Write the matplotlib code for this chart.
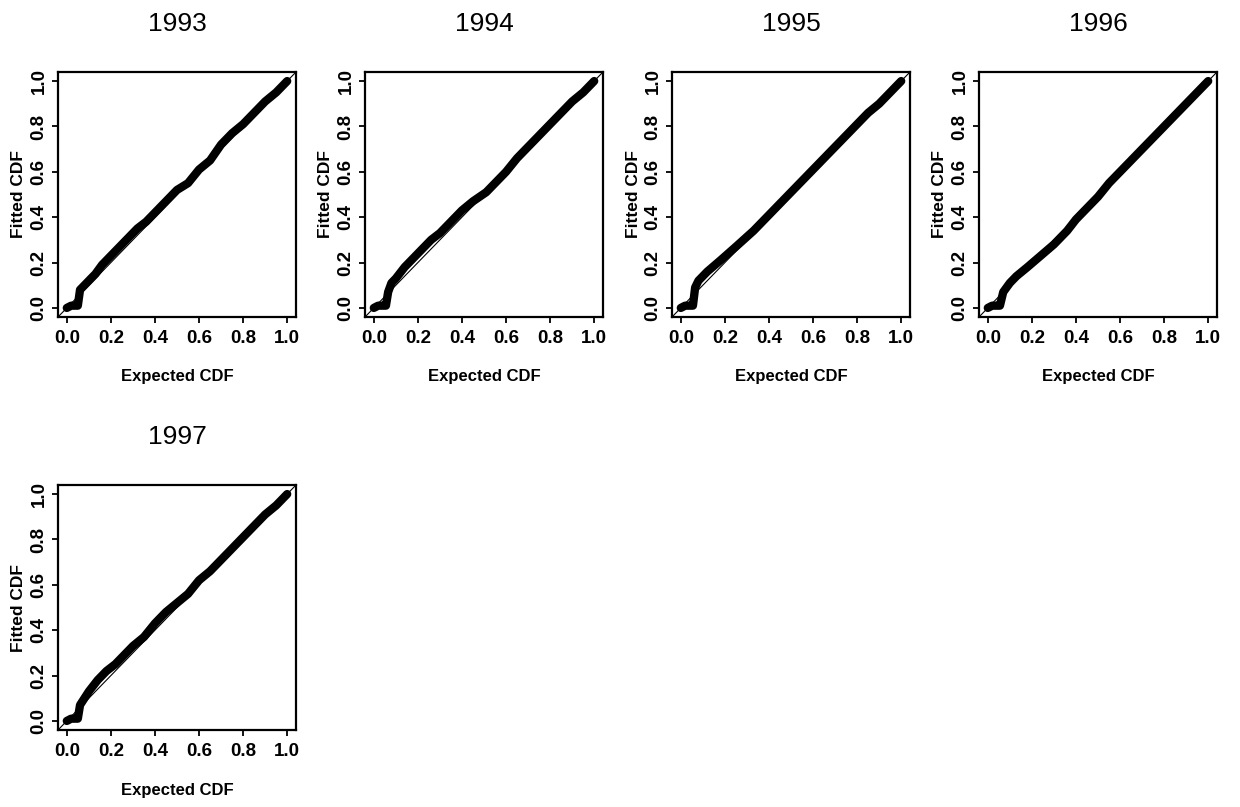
# Fitted vs expected CDF, one panel per year (1993-1997), R-style layout.

import matplotlib

matplotlib.use("Agg")
import matplotlib.pyplot as plt

plt.rcParams["font.family"] = ["Liberation Sans", "DejaVu Sans"]

YEARS = ["1993", "1994", "1995", "1996", "1997"]

x_1993 = [0.00, 0.02, 0.04, 0.05, 0.06, 0.08, 0.10, 0.13, 0.16, 0.20, 0.24, 0.28,
          0.32, 0.36, 0.40, 0.45, 0.50, 0.55, 0.60, 0.65, 0.70, 0.75, 0.80, 0.85,
          0.90, 0.95, 1.00]
y_1993 = [0.00, 0.01, 0.01, 0.01, 0.08, 0.10, 0.12, 0.15, 0.19, 0.23, 0.27, 0.31,
          0.35, 0.38, 0.42, 0.47, 0.52, 0.55, 0.61, 0.65, 0.72, 0.77, 0.81, 0.86,
          0.91, 0.95, 1.00]

x_1994 = [0.00, 0.02, 0.04, 0.055, 0.065, 0.08, 0.10, 0.14, 0.18, 0.22, 0.26, 0.30,
          0.36, 0.40, 0.45, 0.51, 0.55, 0.60, 0.65, 0.70, 0.75, 0.80, 0.85, 0.90,
          0.95, 1.00]
y_1994 = [0.00, 0.01, 0.01, 0.01, 0.07, 0.11, 0.13, 0.18, 0.22, 0.26, 0.30, 0.33,
          0.39, 0.43, 0.47, 0.51, 0.55, 0.60, 0.66, 0.71, 0.76, 0.81, 0.86, 0.91,
          0.95, 1.00]

x_1995 = [0.00, 0.02, 0.04, 0.055, 0.065, 0.08, 0.12, 0.18, 0.25, 0.33, 0.40, 0.45,
          0.50, 0.55, 0.60, 0.65, 0.70, 0.75, 0.80, 0.85, 0.90, 0.95, 1.00]
y_1995 = [0.00, 0.01, 0.01, 0.01, 0.09, 0.12, 0.16, 0.21, 0.27, 0.34, 0.41, 0.46,
          0.51, 0.56, 0.61, 0.66, 0.71, 0.76, 0.81, 0.86, 0.90, 0.95, 1.00]

x_1996 = [0.00, 0.02, 0.04, 0.055, 0.07, 0.10, 0.13, 0.18, 0.24, 0.30, 0.36, 0.40,
          0.45, 0.50, 0.55, 0.60, 0.65, 0.70, 0.75, 0.80, 0.85, 0.90, 0.95, 1.00]
y_1996 = [0.00, 0.01, 0.01, 0.01, 0.07, 0.11, 0.14, 0.18, 0.23, 0.28, 0.34, 0.39,
          0.44, 0.49, 0.55, 0.60, 0.65, 0.70, 0.75, 0.80, 0.85, 0.90, 0.95, 1.00]

x_1997 = [0.00, 0.02, 0.04, 0.05, 0.06, 0.08, 0.10, 0.14, 0.18, 0.22, 0.26, 0.30,
          0.35, 0.40, 0.45, 0.50, 0.55, 0.60, 0.65, 0.70, 0.75, 0.80, 0.85, 0.90,
          0.95, 1.00]
y_1997 = [0.00, 0.01, 0.01, 0.01, 0.07, 0.10, 0.13, 0.18, 0.22, 0.25, 0.29, 0.33,
          0.37, 0.43, 0.48, 0.52, 0.56, 0.62, 0.66, 0.71, 0.76, 0.81, 0.86, 0.91,
          0.95, 1.00]

SERIES = {
    "1993": (x_1993, y_1993),
    "1994": (x_1994, y_1994),
    "1995": (x_1995, y_1995),
    "1996": (x_1996, y_1996),
    "1997": (x_1997, y_1997),
}

TICKS = [0.0, 0.2, 0.4, 0.6, 0.8, 1.0]
TICK_LABELS = ["0.0", "0.2", "0.4", "0.6", "0.8", "1.0"]

W, H = 1240, 807
COL_LEFT = [58, 365, 672, 979]
AX_W = 238
ROW_TOP = [72, 485]
AX_H = 245


def draw_panel(fig, left_px, top_px, year):
    ax = fig.add_axes([left_px / W, 1 - (top_px + AX_H) / H, AX_W / W, AX_H / H])
    xs, ys = SERIES[year]
    lim = (-0.04, 1.04)
    ax.plot(lim, lim, color="black", lw=0.8)
    ax.plot(xs, ys, color="black", lw=6, solid_capstyle="round",
            solid_joinstyle="round")
    ax.set_xlim(lim)
    ax.set_ylim(lim)

    ax.set_xticks(TICKS)
    ax.set_xticklabels(TICK_LABELS, fontsize=13.5, fontweight="bold")
    ax.set_yticks(TICKS)
    ax.set_yticklabels(TICK_LABELS, fontsize=13.5, fontweight="bold",
                       rotation=90, va="center")
    ax.tick_params(direction="out", length=4.5, width=1.3)
    ax.tick_params(axis="x", pad=5)
    ax.tick_params(axis="y", pad=3)

    for sp in ax.spines.values():
        sp.set_linewidth(1.6)

    ax.set_xlabel("Expected CDF", fontsize=12, fontweight="bold")
    ax.xaxis.set_label_coords(0.5, -60 / AX_H)
    ax.xaxis.label.set_va("center")
    ax.set_ylabel("Fitted CDF", fontsize=12.5, fontweight="bold")
    ax.yaxis.set_label_coords(-39 / AX_W, 0.5)
    ax.yaxis.label.set_va("center")

    fig.text((left_px + AX_W / 2) / W, 1 - (top_px - 48) / H, year,
             fontsize=19, ha="center", va="center")
    return ax


def main():
    fig = plt.figure(figsize=(W / 100, H / 100), dpi=100)
    for i, year in enumerate(YEARS):
        row, col = divmod(i, 4)
        draw_panel(fig, COL_LEFT[col], ROW_TOP[row], year)
    fig.savefig("out.png", dpi=100)


if __name__ == "__main__":
    main()
